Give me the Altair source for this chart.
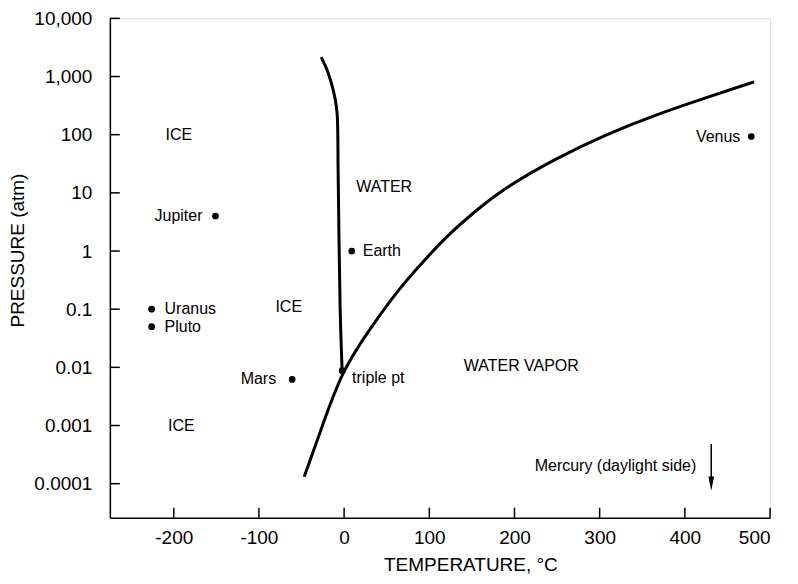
import altair as alt
import pandas as pd

# ---- data ----
# Melting curve (ice / liquid water boundary), top to triple point
melt_temp = [-27.0, -20.0, -14.1, -10.6, -8.2, -7.0, -4.7, -2.35]
melt_pres = [2158, 1297, 692, 415, 230, 20.9, 0.108, 0.00875]

# Sublimation + vaporization curve, bottom-left to upper-right
vap_temp = [-46.9, -25.8, -2.35, 29.3, 64.6, 93.9, 123.2, 158.5, 190.1, 248.8, 307.5, 366.2, 424.9, 481.2]
vap_pres = [1.31e-4, 9.7e-4, 0.00875, 0.0438, 0.228, 0.686, 1.98, 5.5, 12.6, 39.3, 101, 221, 431, 809]

# Planets (surface conditions)
left_names = ["Jupiter", "Mars", "Venus"]
left_temp = [-151, -61, 478]
left_pres = [4.0, 0.0062, 93]
left_dx = [-13, -16, -11]

right_names = ["Uranus", "Pluto", "Earth", "triple pt"]
right_temp = [-226, -226, 9, -2.35]
right_pres = [0.1, 0.05, 1.0, 0.00875]
right_dx = [13, 13, 11, 10]
right_dy = [0, 0, 0, 7]

# Region labels
region_names = ["ICE", "ICE", "ICE", "WATER", "WATER VAPOR"]
region_temp = [-194, -65, -191, 47, 208]
region_pres = [100, 0.11, 0.001, 12.6, 0.0107]

# Mercury arrow
mercury_label = "Mercury (daylight side)"
mercury_temp = 431
mercury_pres_top = 0.00048
mercury_pres_tip = 0.0001
mercury_text_pres = 0.0002

x_ticks = [-200, -100, 0, 100, 200, 300, 400, 500]
y_ticks = [0.0001, 0.001, 0.01, 0.1, 1, 10, 100, 1000, 10000]

FONT = "Liberation Sans"
W, H = 661, 500
LBL = 16

xs = alt.Scale(domain=[-275, 500], nice=False, zero=False)
ys = alt.Scale(type="log", domain=[2.6e-5, 10000], nice=False)

x_axis = alt.Axis(values=x_ticks, ticks=False, grid=False, labelPadding=11,
                  labelExpr="replace(datum.label, '\u2212', '-')",
                  labelFontSize=19, labelFont=FONT, labelColor="black",
                  domainColor="black", domainWidth=1.5,
                  title="TEMPERATURE, °C", titleFont=FONT, titleFontSize=19,
                  titleFontWeight="normal", titleColor="black",
                  titleX=361, titleY=47, titleAlign="center", titleBaseline="middle")
y_axis = alt.Axis(values=y_ticks, format=",~g", ticks=False, grid=False, labelPadding=18,
                  labelFontSize=19, labelFont=FONT, labelColor="black",
                  domainColor="black", domainWidth=1.5,
                  title="PRESSURE (atm)", titleFont=FONT, titleFontSize=19,
                  titleFontWeight="normal", titleColor="black",
                  titleX=-92, titleY=232, titleAlign="center", titleBaseline="middle")

melt_df = pd.DataFrame({"t": melt_temp, "p": melt_pres, "o": range(len(melt_temp))})
vap_df = pd.DataFrame({"t": vap_temp, "p": vap_pres, "o": range(len(vap_temp))})

melt = alt.Chart(melt_df).mark_line(color="black", strokeWidth=3, interpolate="catmull-rom").encode(
    x=alt.X("t:Q", scale=xs, axis=x_axis), y=alt.Y("p:Q", scale=ys, axis=y_axis), order="o:Q")
vap = alt.Chart(vap_df).mark_line(color="black", strokeWidth=3, interpolate="basis").encode(
    x=alt.X("t:Q", scale=xs), y=alt.Y("p:Q", scale=ys), order="o:Q")

left_df = pd.DataFrame({"name": left_names, "t": left_temp, "p": left_pres})
right_df = pd.DataFrame({"name": right_names, "t": right_temp, "p": right_pres})
dots_df = pd.concat([left_df, right_df])

dots = alt.Chart(dots_df).mark_circle(color="black", size=45, opacity=1).encode(
    x=alt.X("t:Q", scale=xs), y=alt.Y("p:Q", scale=ys))

text_layers = []
for n, t, p, dx in zip(left_names, left_temp, left_pres, left_dx):
    text_layers.append(alt.Chart(pd.DataFrame({"name": [n], "t": [t], "p": [p]})).mark_text(
        align="right", baseline="middle", dx=dx, font=FONT, fontSize=LBL, color="black").encode(
        x=alt.X("t:Q", scale=xs), y=alt.Y("p:Q", scale=ys), text="name:N"))
for n, t, p, dx, dy in zip(right_names, right_temp, right_pres, right_dx, right_dy):
    text_layers.append(alt.Chart(pd.DataFrame({"name": [n], "t": [t], "p": [p]})).mark_text(
        align="left", baseline="middle", dx=dx, dy=dy, font=FONT, fontSize=LBL, color="black").encode(
        x=alt.X("t:Q", scale=xs), y=alt.Y("p:Q", scale=ys), text="name:N"))

region_df = pd.DataFrame({"name": region_names, "t": region_temp, "p": region_pres})
regions = alt.Chart(region_df).mark_text(
    align="center", baseline="middle", font=FONT, fontSize=LBL, color="black").encode(
    x=alt.X("t:Q", scale=xs), y=alt.Y("p:Q", scale=ys), text="name:N")

merc_df = pd.DataFrame({"name": [mercury_label], "t": [mercury_temp], "p": [mercury_text_pres],
                        "ptop": [mercury_pres_top], "ptip": [mercury_pres_tip]})
merc_text = alt.Chart(merc_df).mark_text(
    align="right", baseline="middle", dx=-15, font=FONT, fontSize=LBL, color="black").encode(
    x=alt.X("t:Q", scale=xs), y=alt.Y("p:Q", scale=ys), text="name:N")
merc_rule = alt.Chart(merc_df).mark_rule(color="black", strokeWidth=1.5).encode(
    x=alt.X("t:Q", scale=xs), y=alt.Y("ptop:Q", scale=ys), y2="ptip:Q")
merc_head = alt.Chart(merc_df).mark_point(
    shape="M -0.4 -1 L 0.4 -1 L 0 1 Z", filled=True, color="black", size=200, opacity=1).encode(
    x=alt.X("t:Q", scale=xs), y=alt.Y("ptip:Q", scale=ys))

# inward tick marks
xt_df = pd.DataFrame({"t": x_ticks})
yt_df = pd.DataFrame({"p": y_ticks})
xticks = alt.Chart(xt_df).mark_rule(color="black", strokeWidth=1.5).encode(
    x=alt.X("t:Q", scale=xs), y=alt.value(H), y2=alt.value(H - 10))
yticks = alt.Chart(yt_df).mark_rule(color="black", strokeWidth=1.5).encode(
    y=alt.Y("p:Q", scale=ys), x=alt.value(0), x2=alt.value(10))

chart = alt.layer(melt, vap, dots, regions, merc_text, merc_rule, merc_head,
                  xticks, yticks, *text_layers).properties(
    width=W, height=H,
    autosize=alt.AutoSizeParams(type="none"),
    padding={"left": 102, "top": 10, "right": 20, "bottom": 58},
).configure_view(stroke=None).configure(background="white")

chart.save("out.html", embed_options={"renderer": "svg", "actions": False})
